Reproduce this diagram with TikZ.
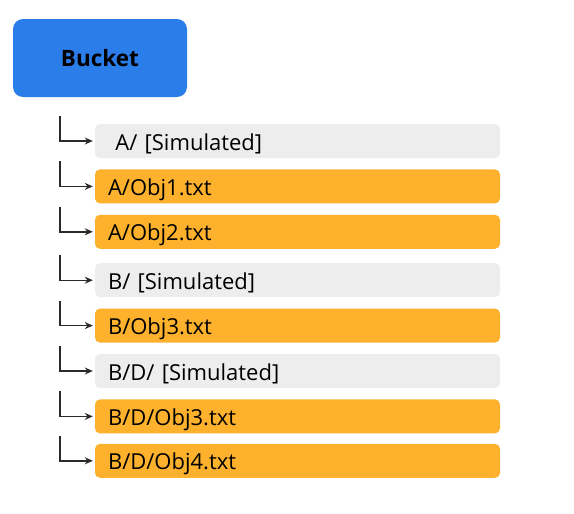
\documentclass[tikz,border=0pt]{standalone}
\usepackage{fontspec}
\setmainfont{Open Sans}
\usetikzlibrary{arrows.meta,positioning}
\definecolor{bucketblue}{HTML}{2B7DE9}
\definecolor{simgrey}{HTML}{EDEDED}
\definecolor{objorange}{HTML}{FDB12D}
\definecolor{linegrey}{HTML}{2A2A2A}

\begin{document}
\begin{tikzpicture}[x=1pt,y=1pt]

\tikzset{bucket/.style={fill=bucketblue,rounded corners=10pt,minimum width=174pt,minimum height=78pt,
    font=\fontsize{22.5}{26}\selectfont\bfseries},
  entry/.style={rounded corners=5pt,text width=379pt,inner xsep=13pt,inner ysep=0pt,minimum height=34pt,
    text height=22pt,text depth=4pt,align=left,font=\fontsize{22}{26}\selectfont},
  simulated/.style={entry,fill=simgrey},
  object/.style={entry,fill=objorange},
  link/.style={draw=linegrey,line width=1.4pt,-{Stealth[length=8pt,width=7pt]},shorten >=2pt}}

\useasboundingbox (0,0) rectangle (574,-514);

\node[bucket] (bucket) at (100,-58) {Bucket};

\node[simulated] (simA) at (297.5,-141) {\ A/ [Simulated]};
\node[object, below=11pt of simA] (objA1) {A/Obj1.txt};
\node[object, below=11pt of objA1] (objA2) {A/Obj2.txt};
\node[simulated, below=14pt of objA2] (simB) {B/ [Simulated]};
\node[object, below=11pt of simB] (objB3) {B/Obj3.txt};
\node[simulated, below=11pt of objB3] (simBD) {B/D/ [Simulated]};
\node[object, below=11pt of simBD] (objBD3) {B/D/Obj3.txt};
\node[object, below=10pt of objBD3] (objBD4) {B/D/Obj4.txt};

% elbow arrows into each entry
\foreach \n in {simA,objA1,objA2,simB,objB3,simBD,objBD3,objBD4}
  \draw[link] ([xshift=-35pt,yshift=25pt]\n.west) |- (\n.west);

\end{tikzpicture}
\end{document}
